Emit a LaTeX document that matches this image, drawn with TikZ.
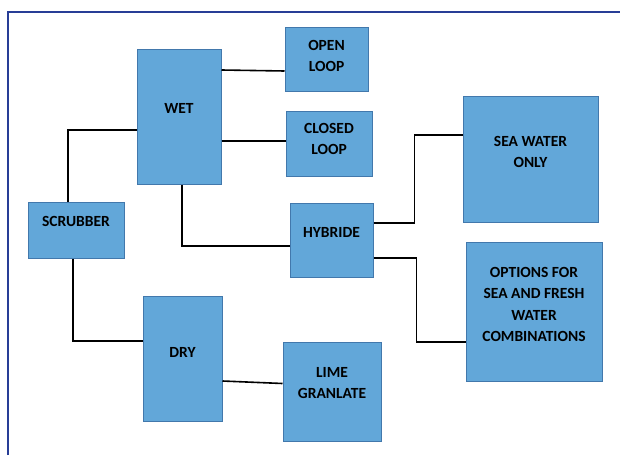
\documentclass[tikz,border=0pt]{standalone}
\usepackage{fontspec}
\setmainfont{Carlito}
\usetikzlibrary{positioning, calc}
\definecolor{boxfill}{RGB}{98,167,217}
\definecolor{boxline}{RGB}{66,120,172}
\definecolor{frameblue}{RGB}{40,62,150}

\begin{document}
\begin{tikzpicture}[x=1pt, y=-1pt,
    font=\bfseries\fontsize{15.5}{21.5}\selectfont,
    block/.style={rectangle, draw=boxline, fill=boxfill, line width=1pt, align=center, inner sep=0pt},
    link/.style={line width=1.6pt, black}
]
\useasboundingbox (0,0) rectangle (620,455);
\draw[frameblue, line width=1.5pt] (8,455) -- (8,12) -- (620,12);

\node[block, minimum width=96, minimum height=56, text depth=18] (scrubber) at (76,230) {SCRUBBER};
\node[block, minimum width=84, minimum height=135, text depth=17] (wet) at (179,116.5) {WET};
\node[block, minimum width=79, minimum height=125, text depth=13] (dry) at (182.5,358.5) {DRY};
\node[block, minimum width=83, minimum height=64, text depth=6] (open) at (326.5,59) {OPEN\\LOOP};
\node[block, minimum width=86, minimum height=65, text depth=9] (closed) at (329,143.5) {CLOSED\\LOOP};
\node[block, minimum width=83, minimum height=74, text depth=16] (hybride) at (331.5,240) {HYBRIDE};
\node[block, minimum width=135, minimum height=126, text depth=14] (sea) at (530.5,159) {SEA WATER\\ONLY};
\node[block, minimum width=136, minimum height=139, text depth=14] (options) at (534,311.5) {OPTIONS FOR\\SEA AND FRESH\\WATER\\COMBINATIONS};
\node[block, minimum width=98, minimum height=99, text depth=17] (lime) at (332,391.5) {LIME\\GRANLATE};

\draw[link] ([xshift=-8pt]scrubber.north) |- ([yshift=-13.5pt]wet.west);
\draw[link] ([xshift=-3pt]scrubber.south) |- ([yshift=17.5pt]dry.west);
\draw[link] ([yshift=46.5pt]wet.east) -- ([yshift=-12pt]open.west);
\draw[link] ([yshift=-24.5pt]wet.east) -- ([yshift=2.5pt]closed.west);
\draw[link] ([xshift=3pt]wet.south) |- ([yshift=-6pt]hybride.west);
\draw[link] ([yshift=17pt]hybride.east) -- ++(41,0) |- ([yshift=24pt]sea.west);
\draw[link] ([yshift=-18pt]hybride.east) -- ++(43,0) |- ([yshift=-30.5pt]options.west);
\draw[link] ([yshift=-22.5pt]dry.east) -- ([yshift=8pt]lime.west);
\end{tikzpicture}
\end{document}
